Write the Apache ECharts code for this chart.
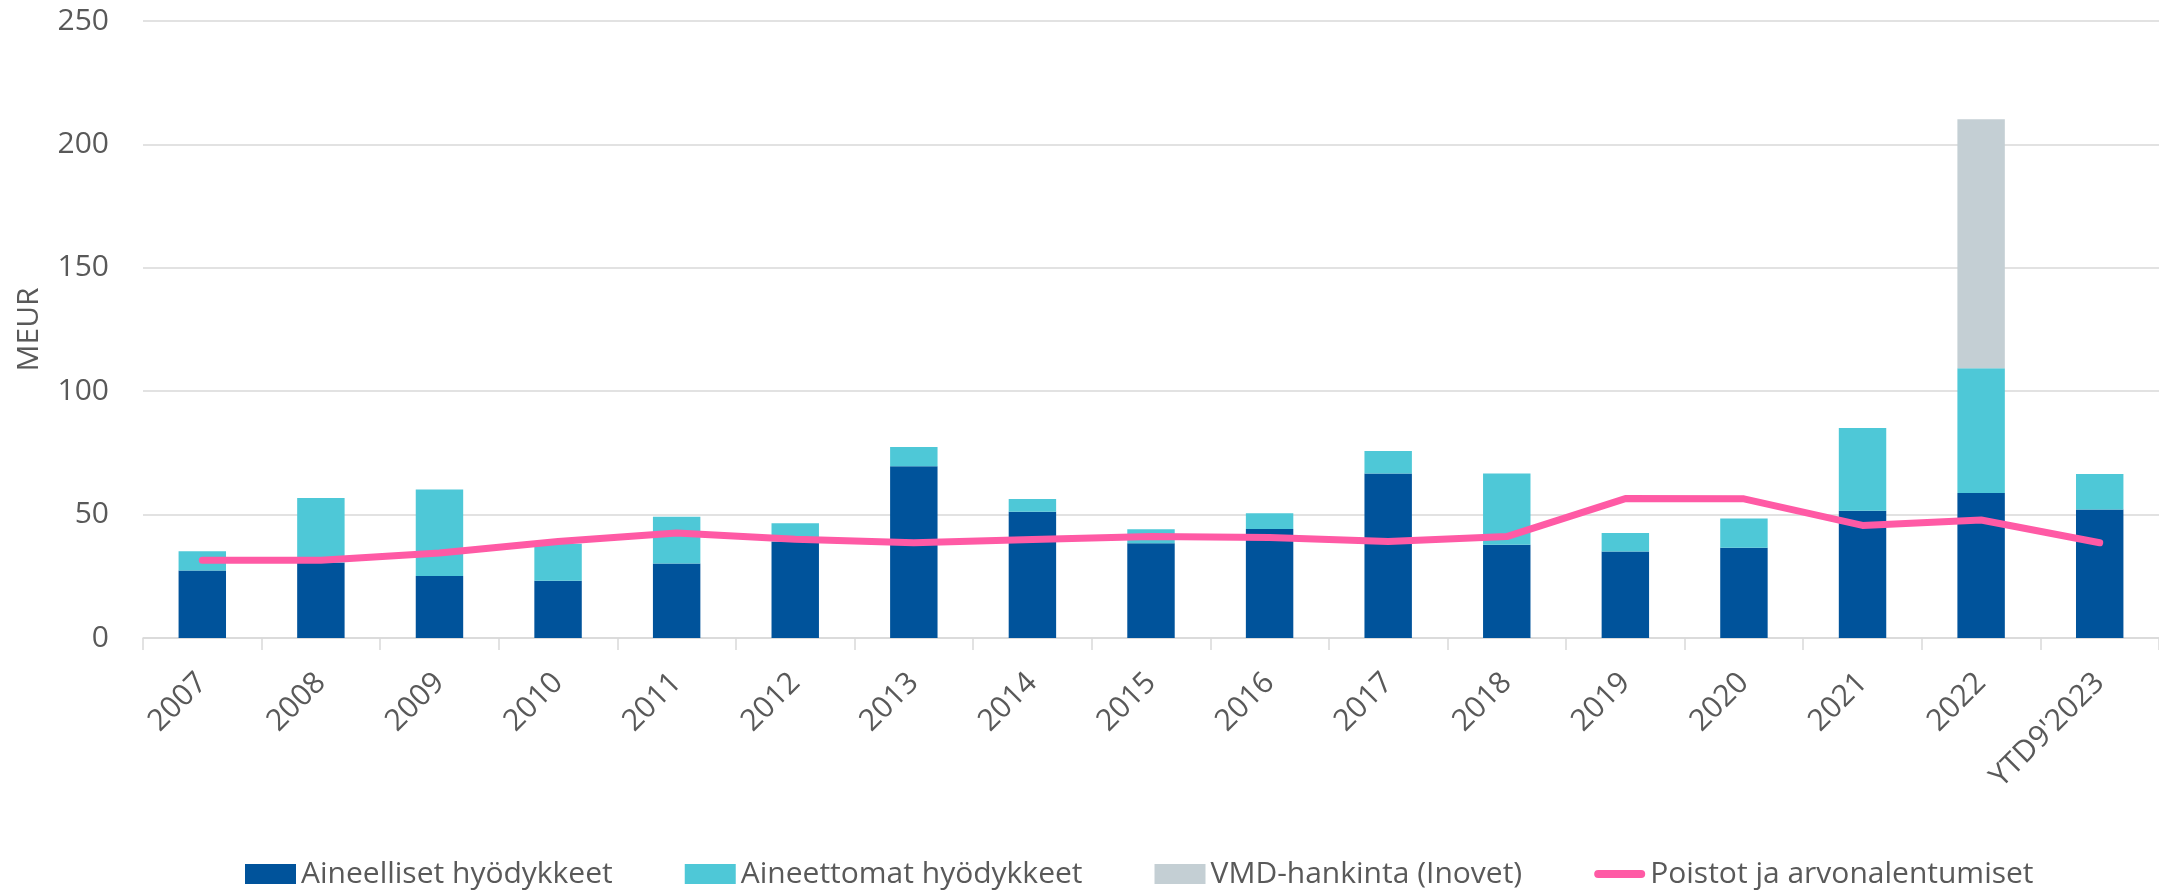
<!DOCTYPE html>
<html>
<head>
<meta charset="utf-8">
<script src="https://cdn.jsdelivr.net/npm/echarts@6/dist/echarts.min.js"></script>
<style>
  html, body { margin: 0; padding: 0; background: #ffffff; }
  #chart { width: 2159px; height: 892px; }
</style>
</head>
<body>
<div id="chart"></div>
<script>
// Investoinnit ja poistot vuosittain (MEUR)
const categories = ['2007', '2008', '2009', '2010', '2011', '2012', '2013', '2014', '2015',
  '2016', '2017', '2018', '2019', '2020', '2021', '2022', "YTD9'2023"];

// Aineelliset hyödykkeet
const tangible = [27.4, 30.5, 25.1, 23.2, 30.2, 39.0, 69.6, 51.2, 38.4, 44.2, 66.7, 37.8, 35.0, 36.6, 51.6, 58.8, 52.1];
// Aineettomat hyödykkeet
const intangible = [7.7, 26.2, 35.1, 15.0, 18.9, 7.5, 7.8, 5.1, 5.7, 6.3, 9.1, 28.9, 7.5, 11.8, 33.5, 50.5, 14.4];
// VMD-hankinta (Inovet)
const acquisition = [null, null, null, null, null, null, null, null, null, null, null, null, null, null, null, 100.9, null];
// Poistot ja arvonalentumiset
const depreciation = [31.5, 31.5, 34.4, 39.1, 42.5, 40.0, 38.6, 39.9, 41.1, 40.7, 39.1, 41.1, 56.5, 56.4, 45.6, 47.8, 38.6];

const yTicks = { min: 0, max: 250, interval: 50 };

const seriesNames = ['Aineelliset hyödykkeet', 'Aineettomat hyödykkeet', 'VMD-hankinta (Inovet)', 'Poistot ja arvonalentumiset'];
const colors = { tangible: '#00539B', intangible: '#4EC8D7', acquisition: '#C4CFD4', depreciation: '#FF5AA5' };

const textColor = '#595959';
const fontFamily = '"Open Sans", "Noto Sans", sans-serif';
const gridColor = '#D9D9D9';

const chart = echarts.init(document.getElementById('chart'), null, { renderer: 'canvas' });

chart.setOption({
  animation: false,
  backgroundColor: '#ffffff',
  textStyle: { fontFamily: fontFamily, color: textColor },
  grid: { left: 143, right: 0, top: 21, bottom: 254, containLabel: false },
  legend: {
    left: 240,
    top: 854,
    itemWidth: 51,
    itemHeight: 20,
    itemGap: 72,
    textStyle: { fontSize: 30, color: textColor, fontFamily: fontFamily },
    data: [
      { name: seriesNames[0], icon: 'rect' },
      { name: seriesNames[1], icon: 'rect' },
      { name: seriesNames[2], icon: 'rect' },
      {
        name: seriesNames[3],
        icon: 'path://M0,0 M51,20 M4,6 L47,6 A4,4 0 0 1 47,14 L4,14 A4,4 0 0 1 4,6 Z',
        itemStyle: { color: colors.depreciation }
      }
    ]
  },
  xAxis: {
    type: 'category',
    data: categories,
    boundaryGap: true,
    axisLine: { show: true, lineStyle: { color: gridColor, width: 1.5 } },
    axisTick: { show: true, length: 12, alignWithLabel: false, lineStyle: { color: gridColor, width: 1.5 } },
    axisLabel: {
      rotate: 45,
      margin: 40,
      fontSize: 30,
      color: textColor,
      fontFamily: fontFamily,
      interval: 0
    }
  },
  yAxis: {
    type: 'value',
    min: yTicks.min,
    max: yTicks.max,
    interval: yTicks.interval,
    name: 'MEUR',
    nameLocation: 'middle',
    nameGap: 99,
    nameRotate: 90,
    nameTextStyle: { fontSize: 30, color: textColor, fontFamily: fontFamily },
    axisLine: { show: false },
    axisTick: { show: false },
    axisLabel: { fontSize: 30, color: textColor, margin: 34, fontFamily: fontFamily },
    splitLine: { show: true, lineStyle: { color: gridColor, width: 1.5 } }
  },
  series: [
    {
      name: seriesNames[0],
      type: 'bar',
      stack: 'capex',
      barWidth: '40%',
      itemStyle: { color: colors.tangible },
      data: tangible
    },
    {
      name: seriesNames[1],
      type: 'bar',
      stack: 'capex',
      itemStyle: { color: colors.intangible },
      data: intangible
    },
    {
      name: seriesNames[2],
      type: 'bar',
      stack: 'capex',
      itemStyle: { color: colors.acquisition },
      data: acquisition
    },
    {
      name: seriesNames[3],
      type: 'line',
      symbol: 'none',
      z: 5,
      itemStyle: { color: colors.depreciation },
      lineStyle: { color: colors.depreciation, width: 7, cap: 'round', join: 'round' },
      data: depreciation
    }
  ]
});
</script>
</body>
</html>
